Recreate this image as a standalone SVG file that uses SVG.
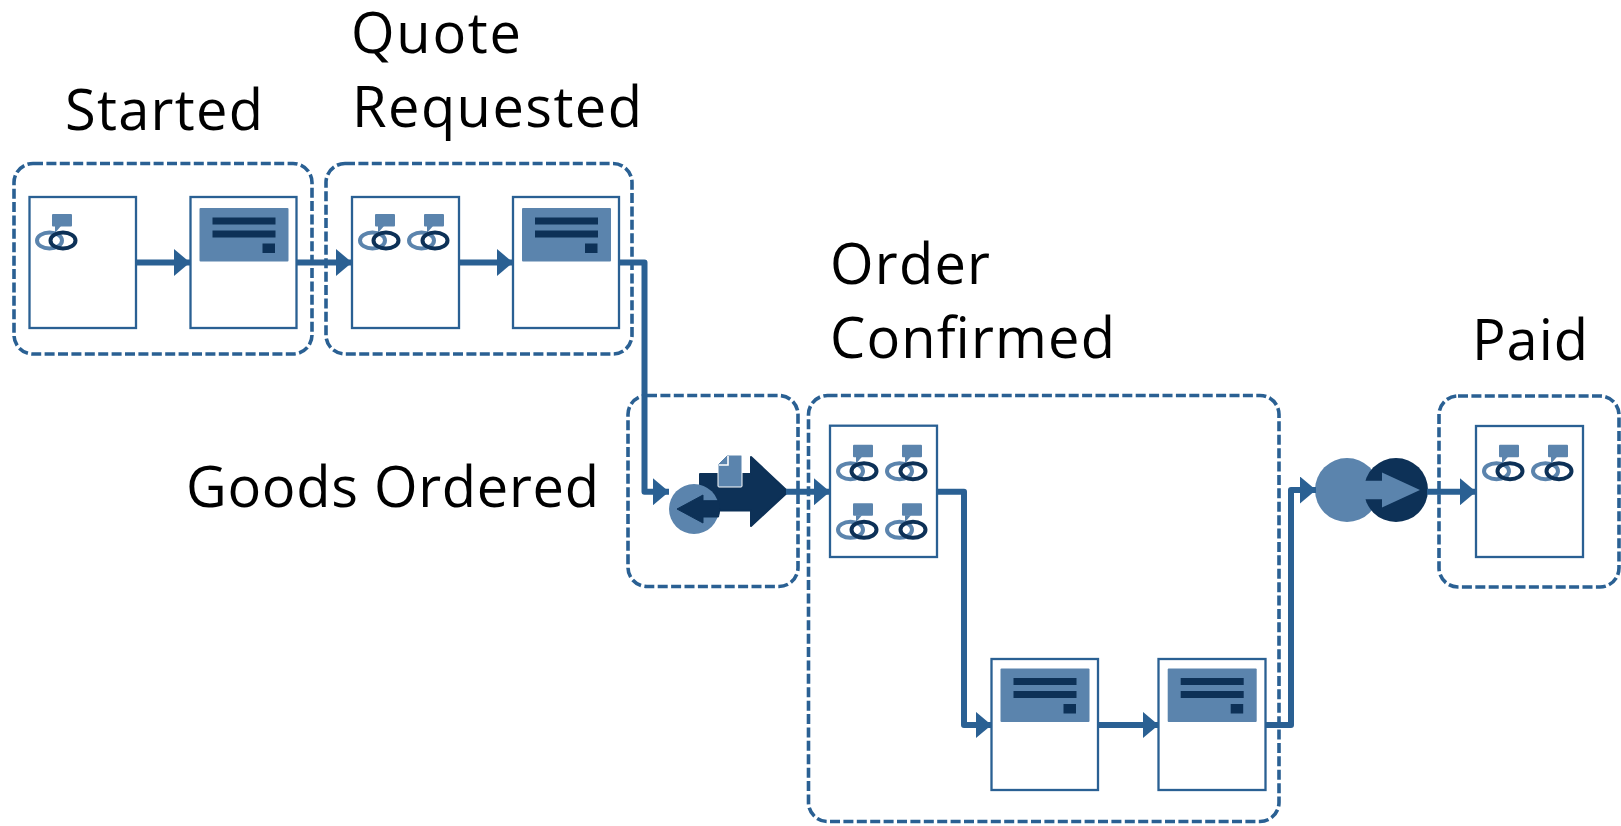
<svg xmlns="http://www.w3.org/2000/svg" xmlns:xlink="http://www.w3.org/1999/xlink" width="1621" height="826" viewBox="0 0 1621 826">
<style>
.lane{fill:none;stroke:#2a6093;stroke-width:3.6;stroke-dasharray:10 3.4}
.task{fill:#fff;stroke:#2a6093;stroke-width:2.3}
.con{fill:none;stroke:#2a6093;stroke-width:6;stroke-linejoin:round}
.lt{fill:#5b84ad}.dk{fill:#0d3157}
.rl{fill:none;stroke:#5b84ad;stroke-width:4}.rd{fill:none;stroke:#0d3157;stroke-width:4}
text{font-family:"Open Sans","Noto Sans",sans-serif;font-size:56px;fill:#000}
</style>
<defs>
<marker id="ah" markerUnits="userSpaceOnUse" markerWidth="17" markerHeight="27" refX="16" refY="13.5" orient="auto"><path d="M0 0L16 13.5L0 27Z" fill="#2a6093"/></marker>
<g id="ic"><rect class="lt" x="0" y="0" width="20" height="12.5" rx="1"/><path class="lt" d="M3 12L9 12L3 19Z"/><ellipse class="rl" cx="-2.5" cy="26.5" rx="12.5" ry="8"/><ellipse class="rd" cx="11" cy="26.5" rx="12.5" ry="8"/></g>
<g id="fm"><rect class="lt" x="0" y="0" width="89" height="53.5" rx="1"/><rect class="dk" x="13" y="9.5" width="63" height="7"/><rect class="dk" x="13" y="22.5" width="63" height="7"/><rect class="dk" x="63" y="35.5" width="12.5" height="9.5"/></g>
</defs>
<g id="lanes">
<rect id="lane-started" class="lane" x="14" y="163.5" width="298" height="190.5" rx="19"/>
<rect id="lane-quote" class="lane" x="326" y="163.5" width="306" height="190.5" rx="19"/>
<rect id="lane-goods" class="lane" x="628" y="395.5" width="170" height="191" rx="19"/>
<rect id="lane-order" class="lane" x="808.5" y="395.5" width="470.5" height="426" rx="19"/>
<rect id="lane-paid" class="lane" x="1439" y="396" width="180" height="191" rx="19"/>
</g>
<g id="labels">
<text x="65" y="130" textLength="198">Started</text>
<text x="351" y="53" textLength="170">Quote</text>
<text x="352" y="127" textLength="290">Requested</text>
<text x="830" y="284" textLength="160">Order</text>
<text x="830" y="358" textLength="285">Confirmed</text>
<text x="1472" y="360" textLength="116">Paid</text>
<text x="186" y="507" textLength="413">Goods Ordered</text>
</g>
<g id="n1"><rect class="task" x="29.5" y="197" width="106.5" height="131"/><use xlink:href="#ic" x="52" y="214"/></g>
<g id="n2"><rect class="task" x="190.5" y="197" width="106" height="131"/><use xlink:href="#fm" x="199.5" y="208"/></g>
<g id="n3"><rect class="task" x="352" y="197" width="107" height="131"/><use xlink:href="#ic" x="375" y="214"/><use xlink:href="#ic" x="424" y="214"/></g>
<g id="n4"><rect class="task" x="513" y="197" width="106" height="131"/><use xlink:href="#fm" x="522" y="208"/></g>
<g id="n5">
<path class="dk" d="M700 474L751 474L751 457L788 491.7L751 526L751 510.4L700 510.4Z" stroke="#0d3157" stroke-linejoin="round" stroke-width="2"/>
<path class="lt" stroke="#fff" stroke-width="1" d="M727 455L741 455Q742 455 742 456L742 486Q742 487 741 487L719 487Q718 487 718 486L718 464Z"/>
<path d="M719 465L728 465L728 456" fill="none" stroke="#fff" stroke-width="1.6"/>
<circle class="lt" cx="694" cy="509" r="25"/>
<path class="dk" d="M677 509L703 495L703 500.7L718.5 500.7A25 25 0 0 1 718.5 517L703 517L703 523Z" stroke="#0d3157" stroke-linejoin="round" stroke-width="1"/>
</g>
<g id="n6"><rect class="task" x="830" y="425.7" width="107" height="131.3"/><use xlink:href="#ic" x="853" y="444.7"/><use xlink:href="#ic" x="902" y="444.7"/><use xlink:href="#ic" x="853" y="503.3"/><use xlink:href="#ic" x="902" y="503.3"/></g>
<g id="n7"><rect class="task" x="991.5" y="659" width="106.5" height="131"/><use xlink:href="#fm" x="1000.5" y="668.5"/></g>
<g id="n8"><rect class="task" x="1158.5" y="659" width="107" height="131"/><use xlink:href="#fm" x="1167.7" y="668.5"/></g>
<g id="n9">
<circle class="lt" cx="1347" cy="490" r="32"/>
<circle class="dk" cx="1396" cy="490" r="32"/>
<path class="lt" d="M1360 480.7L1382 480.7L1382 472.5L1420 490L1382 507.5L1382 499.3L1360 499.3Z"/>
</g>
<g id="n10"><rect class="task" x="1476" y="426" width="107" height="131"/><use xlink:href="#ic" x="1499" y="444.7"/><use xlink:href="#ic" x="1548" y="444.7"/></g>
<g id="connectors">
<path class="con" marker-end="url(#ah)" d="M136 262.5L190 262.5"/>
<path class="con" marker-end="url(#ah)" d="M296.5 262.5L352 262.5"/>
<path class="con" marker-end="url(#ah)" d="M459 262.5L513 262.5"/>
<path class="con" marker-end="url(#ah)" d="M619 262.5L644.5 262.5L644.5 491.7L669 491.7"/>
<path class="con" marker-end="url(#ah)" d="M786 491.7L830 491.7"/>
<path class="con" marker-end="url(#ah)" d="M937 491.7L964 491.7L964 725L991.5 725"/>
<path class="con" marker-end="url(#ah)" d="M1098 725L1158.5 725"/>
<path class="con" marker-end="url(#ah)" d="M1265.5 725L1291 725L1291 490L1316 490"/>
<path class="con" marker-end="url(#ah)" d="M1427 491.7L1476 491.7"/>
</g>
</svg>
